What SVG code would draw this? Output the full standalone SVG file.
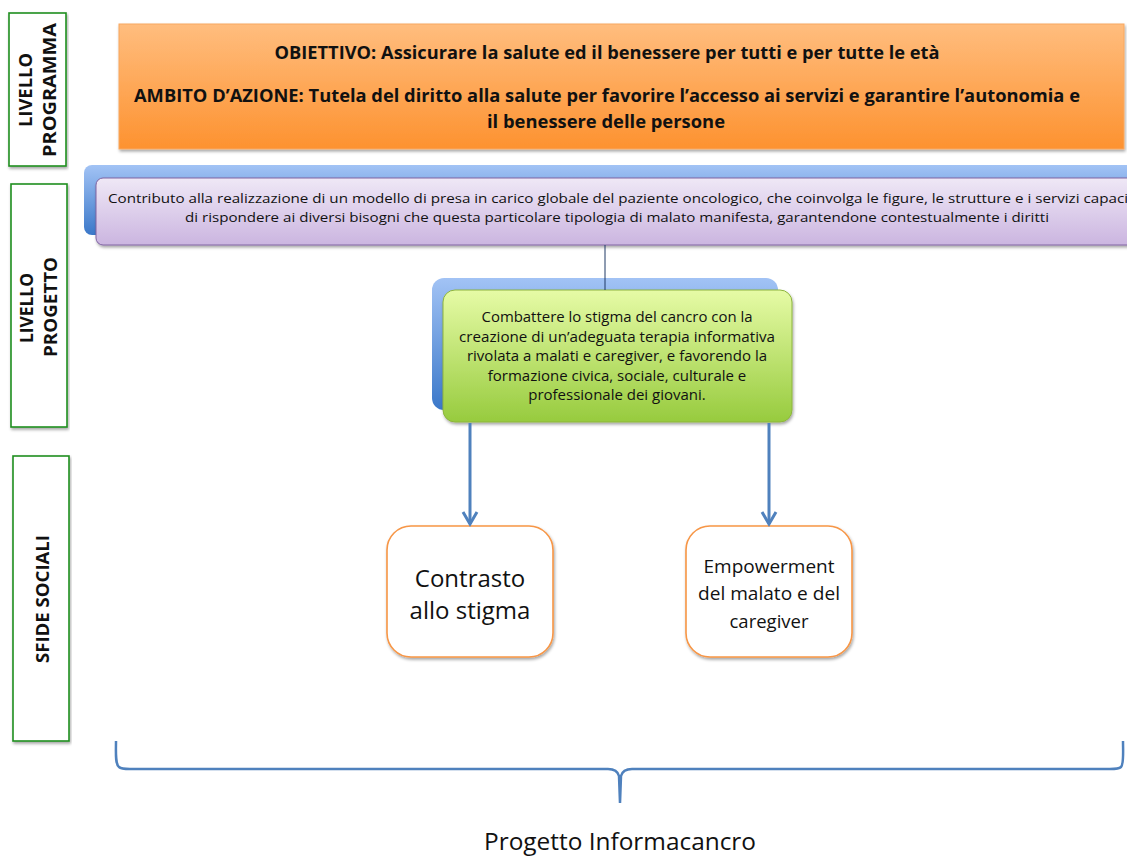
<svg xmlns="http://www.w3.org/2000/svg" width="1127" height="857" viewBox="0 0 1127 857">
<defs>
<linearGradient id="gOrange" x1="0" y1="0" x2="0" y2="1">
<stop offset="0" stop-color="#ffbd7e"/>
<stop offset="1" stop-color="#fd9230"/>
</linearGradient>
<linearGradient id="gBlue" x1="0" y1="0" x2="0" y2="1">
<stop offset="0" stop-color="#a2c3f5"/>
<stop offset="1" stop-color="#3b78c9"/>
</linearGradient>
<linearGradient id="gPurple" x1="0" y1="0" x2="0" y2="1">
<stop offset="0" stop-color="#efe8f6"/>
<stop offset="1" stop-color="#cbb5e0"/>
</linearGradient>
<linearGradient id="gGreen" x1="0" y1="0" x2="0" y2="1">
<stop offset="0" stop-color="#e6fba6"/>
<stop offset="1" stop-color="#97cb3e"/>
</linearGradient>
<filter id="sh" x="-5%" y="-10%" width="110%" height="130%">
<feDropShadow dx="1" dy="2" stdDeviation="1.5" flood-color="#000" flood-opacity="0.35"/>
</filter>
<marker id="arr" markerWidth="16" markerHeight="18" refX="13" refY="8" orient="auto" markerUnits="userSpaceOnUse" viewBox="0 0 16 16" overflow="visible">
<path d="M1,1 L13,8 L1,15" fill="none" stroke="#4f81bd" stroke-width="3" stroke-linejoin="miter"/>
</marker>
</defs>
<style>
.lvl{fill:#fff;stroke:#1f8f1f;stroke-width:1.6}
.lvlt{font-family:"Open Sans","Liberation Sans",sans-serif;font-weight:bold;font-size:17px;fill:#111;text-anchor:middle}
.hd{font-family:"Open Sans","Liberation Sans",sans-serif;font-weight:bold;font-size:17px;fill:#111;text-anchor:middle}
.t14{font-family:"Open Sans","Liberation Sans",sans-serif;font-size:13.5px;fill:#111;text-anchor:middle}
.t15{font-family:"Open Sans","Liberation Sans",sans-serif;font-size:15px;fill:#111;text-anchor:middle}
.big{font-family:"Open Sans","Liberation Sans",sans-serif;font-size:24px;fill:#111;text-anchor:middle}
.mid{font-family:"Open Sans","Liberation Sans",sans-serif;font-size:18.5px;fill:#111;text-anchor:middle}
.ob{fill:#fff;stroke:#f79646;stroke-width:1.6}
.conn{fill:none;stroke:#4f81bd;stroke-width:3}
</style>

<g id="label-programma">
<rect class="lvl" x="9" y="13" width="57" height="153" filter="url(#sh)"/>
<text class="lvlt" transform="translate(32,90) rotate(-90)" x="0" y="0" textLength="74" lengthAdjust="spacingAndGlyphs">LIVELLO</text>
<text class="lvlt" transform="translate(56,90) rotate(-90)" x="0" y="0" textLength="134" lengthAdjust="spacingAndGlyphs">PROGRAMMA</text>
</g>
<g id="label-progetto">
<rect class="lvl" x="11" y="184" width="56" height="243" filter="url(#sh)"/>
<text class="lvlt" transform="translate(33,308) rotate(-90)" x="0" y="0" textLength="70" lengthAdjust="spacingAndGlyphs">LIVELLO</text>
<text class="lvlt" transform="translate(57,307) rotate(-90)" x="0" y="0" textLength="100" lengthAdjust="spacingAndGlyphs">PROGETTO</text>
</g>
<g id="label-sfide">
<rect class="lvl" x="13" y="456" width="56" height="285" filter="url(#sh)"/>
<text class="lvlt" transform="translate(49,599) rotate(-90)" x="0" y="0" textLength="128" lengthAdjust="spacingAndGlyphs">SFIDE SOCIALI</text>
</g>

<g id="obiettivo">
<rect x="119" y="24" width="1005" height="125" fill="url(#gOrange)" stroke="#f8a860" stroke-width="1" filter="url(#sh)"/>
<text class="hd" x="607" y="59" textLength="665" lengthAdjust="spacingAndGlyphs">OBIETTIVO: Assicurare la salute ed il benessere per tutti e per tutte le età</text>
<text class="hd" x="607" y="102" textLength="946" lengthAdjust="spacingAndGlyphs">AMBITO D’AZIONE: Tutela del diritto alla salute per favorire l’accesso ai servizi e garantire l’autonomia e</text>
<text class="hd" x="606" y="128" textLength="238" lengthAdjust="spacingAndGlyphs">il benessere delle persone</text>
</g>

<g id="obiettivo-generale">
<rect x="84" y="165" width="1050" height="70" rx="8" fill="url(#gBlue)"/>
<rect x="96" y="178" width="1045" height="67" rx="7" fill="url(#gPurple)" stroke="#8064a2" stroke-width="1" filter="url(#sh)"/>
<text class="t14" x="618" y="203" textLength="1020" lengthAdjust="spacingAndGlyphs">Contributo alla realizzazione di un modello di presa in carico globale del paziente oncologico, che coinvolga le figure, le strutture e i servizi capaci</text>
<text class="t14" x="617" y="222" textLength="864" lengthAdjust="spacingAndGlyphs">di rispondere ai diversi bisogni che questa particolare tipologia di malato manifesta, garantendone contestualmente i diritti</text>
</g>

<g id="obiettivo-specifico">
<rect x="432" y="278" width="346" height="132" rx="12" fill="url(#gBlue)"/>
<rect x="443" y="290" width="349" height="132" rx="12" fill="url(#gGreen)" stroke="#8db43e" stroke-width="1" filter="url(#sh)"/>
<text class="t15" x="617" y="322" textLength="271" lengthAdjust="spacingAndGlyphs">Combattere lo stigma del cancro con la</text>
<text class="t15" x="617" y="342" textLength="316" lengthAdjust="spacingAndGlyphs">creazione di un’adeguata terapia informativa</text>
<text class="t15" x="617" y="361">rivolata a malati e caregiver, e favorendo la</text>
<text class="t15" x="617" y="381">formazione civica, sociale, culturale e</text>
<text class="t15" x="617" y="400">professionale dei giovani.</text>
</g>

<g id="contrasto">
<rect class="ob" x="387" y="526" width="166" height="131" rx="24" filter="url(#sh)"/>
<text class="big" x="470" y="587">Contrasto</text>
<text class="big" x="470" y="619">allo stigma</text>
</g>

<g id="empowerment">
<rect class="ob" x="686" y="526" width="166" height="131" rx="24" filter="url(#sh)"/>
<text class="mid" x="769" y="573" textLength="131" lengthAdjust="spacingAndGlyphs">Empowerment</text>
<text class="mid" x="769" y="600" textLength="142" lengthAdjust="spacingAndGlyphs">del malato e del</text>
<text class="mid" x="769" y="628">caregiver</text>
</g>

<g id="connectors">
<line x1="605" y1="245" x2="605" y2="290" stroke="#1f3864" stroke-width="1"/>
<line class="conn" x1="470" y1="423" x2="470" y2="524" marker-end="url(#arr)"/>
<line class="conn" x1="769" y1="423" x2="769" y2="524" marker-end="url(#arr)"/>
</g>

<g id="brace">
<path d="M116,741 C116,752 115,764 119,767 C121,769 124,769 130,769 L608,769 C615,769 618,772 619,776 L620,803 L621,776 C622,772 625,769 632,769 L1110,769 C1116,769 1119,769 1121,767 C1124,764 1123,752 1123,741" fill="none" stroke="#4f81bd" stroke-width="2.5"/>
<text class="big" x="620" y="850" style="font-size:24px" textLength="272" lengthAdjust="spacingAndGlyphs">Progetto Informacancro</text>
</g>
</svg>
